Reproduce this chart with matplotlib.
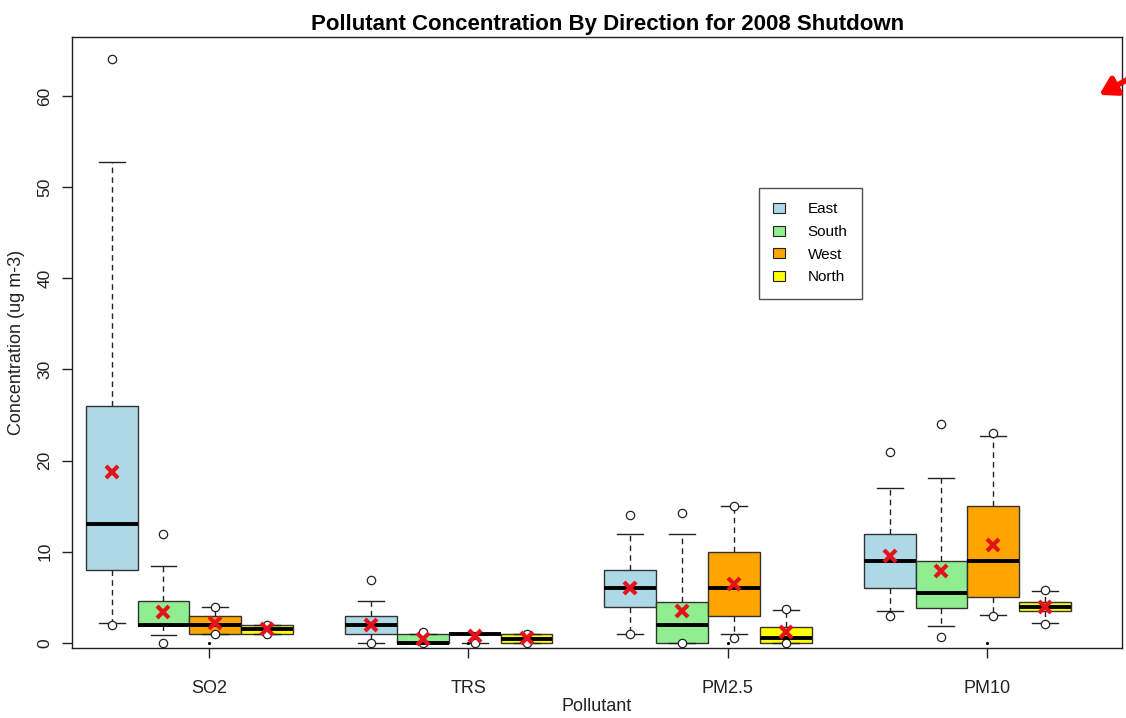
import numpy as np
import matplotlib.pyplot as plt
from matplotlib.patches import Patch

plt.rcParams['font.family'] = ['Liberation Sans', 'DejaVu Sans']

# Daten
pollutants = ['SO2', 'TRS', 'PM2.5', 'PM10']
directions = ['East', 'South', 'West', 'North']
colors = ['#ADD8E6', '#90EE90', '#FFA500', '#FFFF00']

# je Schadstoff: Liste pro Richtung [whislo, q1, med, q3, whishi]
so2 = [[2.2, 8.0, 13.0, 26.0, 52.8], [0.85, 2.0, 2.0, 4.55, 8.4],
       [1.0, 1.0, 2.0, 3.0, 4.0], [1.0, 1.0, 1.5, 2.0, 2.0]]
trs = [[0.0, 1.0, 2.0, 3.0, 4.6], [0.0, 0.0, 0.0, 1.0, 1.0],
       [0.0, 1.0, 1.0, 1.0, 1.0], [0.0, 0.0, 0.45, 1.0, 1.0]]
pm25 = [[1.0, 4.0, 6.0, 8.0, 12.0], [0.0, 0.0, 2.0, 4.5, 12.0],
        [1.0, 3.0, 6.0, 10.0, 15.0], [0.0, 0.0, 0.5, 1.7, 3.6]]
pm10 = [[3.5, 6.0, 9.0, 12.0, 17.0], [1.9, 3.8, 5.45, 9.0, 18.1],
        [3.1, 5.0, 9.0, 15.0, 22.7], [2.2, 3.5, 4.0, 4.5, 5.7]]

so2_out = [[64.0, 2.0], [12.0, 0.0], [4.0, 1.0], [2.0, 1.0]]
trs_out = [[6.9, 0.0], [1.25, 0.0], [0.0], [1.0, 0.0]]
pm25_out = [[14.0, 1.0], [14.3, 0.0], [15.0, 0.5], [3.7, 0.0]]
pm10_out = [[21.0, 3.0], [24.0, 0.7], [23.0, 3.0], [5.8, 2.1]]

so2_mean = [18.75, 3.45, 2.2, 1.5]
trs_mean = [2.0, 0.45, 0.8, 0.5]
pm25_mean = [6.0, 3.5, 6.5, 1.2]
pm10_mean = [9.55, 7.9, 10.7, 4.0]

stats_all = [so2, trs, pm25, pm10]
out_all = [so2_out, trs_out, pm25_out, pm10_out]
mean_all = [so2_mean, trs_mean, pm25_mean, pm10_mean]

fig = plt.figure(figsize=(11.26, 7.18), dpi=100)
ax = fig.add_axes([0.0639, 0.0975, 0.9325, 0.851])

offsets = [-0.375, -0.175, 0.025, 0.225]
ticks = np.arange(1, 5)

for g in range(4):
    for d in range(4):
        lo, q1, med, q3, hi = stats_all[g][d]
        st = dict(whislo=lo, q1=q1, med=med, q3=q3, whishi=hi,
                  fliers=out_all[g][d], label='')
        pos = ticks[g] + offsets[d]
        ax.bxp([st], positions=[pos], widths=0.2, patch_artist=True,
               showfliers=True, manage_ticks=False,
               boxprops=dict(facecolor=colors[d], edgecolor='#333333', linewidth=1.0),
               medianprops=dict(color='black', linewidth=2.8, solid_capstyle='butt'),
               whiskerprops=dict(color='#222222', linewidth=1.0, linestyle=(0, (4, 3))),
               capprops=dict(color='#222222', linewidth=1.0),
               flierprops=dict(marker='o', markerfacecolor='white',
                               markeredgecolor='#222222', markersize=6, markeredgewidth=0.9))
        ax.plot(pos, mean_all[g][d], 'x', color='#E3121B', markersize=8,
                markeredgewidth=3, zorder=5)

# kleine Punkte an den Tick-Positionen
ax.plot(ticks, np.zeros(4), '.', color='black', markersize=2.5)

ax.set_xlim(0.472, 4.521)
ax.set_ylim(-0.55, 66.47)
ax.set_xticks(ticks)
ax.set_xticklabels(pollutants, fontsize=13, color='#222222')
ax.set_yticks(np.arange(0, 61, 10))
ax.set_yticklabels([str(v) for v in range(0, 61, 10)], rotation=90,
                   va='center', fontsize=12.5, color='#222222')
ax.tick_params(axis='both', length=7, width=1.0, color='#222222')
ax.tick_params(axis='y', pad=7)
ax.tick_params(axis='x', pad=16)
for s in ax.spines.values():
    s.set_color('#222222')
    s.set_linewidth(1.0)

ax.set_xlabel('Pollutant', fontsize=13, color='#222222', labelpad=1)
ax.set_ylabel('Concentration (ug m-3)', fontsize=13, color='#222222', labelpad=9)
ax.set_title('Pollutant Concentration By Direction for 2008 Shutdown',
             fontsize=16, fontweight='bold', x=0.51, pad=5)

handles = [Patch(facecolor=c, edgecolor='#222222', linewidth=0.8) for c in colors]
leg = ax.legend(handles, directions, loc='upper left', bbox_to_anchor=(0.654, 0.753),
                fontsize=11, frameon=True, fancybox=False, handlelength=0.75,
                handleheight=0.65, handletextpad=1.5, labelspacing=0.56,
                borderpad=0.95, borderaxespad=0)
leg.get_frame().set_edgecolor('#222222')
leg.get_frame().set_linewidth(1.0)

# roter Pfeil oben rechts
ax.annotate('', xy=(0.974, 0.866), xycoords='figure fraction',
            xytext=(1.02, 0.905), textcoords='figure fraction',
            arrowprops=dict(arrowstyle='-|>,head_length=1.0,head_width=0.6',
                            color='red', lw=4), annotation_clip=False)

fig.savefig('out.png', dpi=100)
